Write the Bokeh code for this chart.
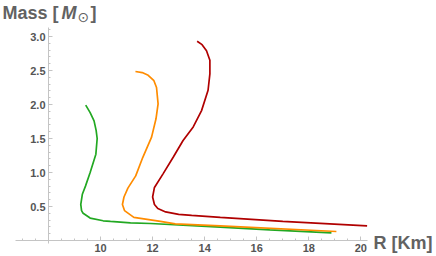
from bokeh.plotting import figure
from bokeh.models import LinearAxis, FixedTicker, Range1d, Label, NumeralTickFormatter
from bokeh.embed import file_html
from bokeh.resources import INLINE

# ---- data ----
green_R = [9.43, 9.6, 9.75, 9.83, 9.87, 9.82, 9.6, 9.42, 9.3, 9.24, 9.27, 9.33, 9.6, 10.1, 10.38, 11.15, 11.92, 14.6, 16.5, 18.87]
green_M = [1.99, 1.88, 1.76, 1.62, 1.50, 1.27, 1.00, 0.80, 0.68, 0.53, 0.44, 0.40, 0.33, 0.29, 0.28, 0.26, 0.25, 0.196, 0.157, 0.113]

orange_R = [11.34, 11.6, 11.83, 12.05, 12.15, 12.21, 12.13, 11.96, 11.62, 11.35, 11.05, 10.9, 10.84, 10.92, 11.28, 12.3, 12.87, 14.6, 19.06]
orange_M = [2.485, 2.47, 2.43, 2.35, 2.25, 2.01, 1.79, 1.52, 1.22, 0.95, 0.77, 0.64, 0.53, 0.44, 0.34, 0.28, 0.245, 0.216, 0.132]

red_R = [13.71, 13.9, 14.07, 14.2, 14.2, 14.13, 13.88, 13.56, 13.17, 12.79, 12.4, 12.07, 12.0, 12.07, 12.2, 12.5, 13.0, 13.5, 14.6, 17.0, 20.24]
red_M = [2.93, 2.88, 2.79, 2.65, 2.45, 2.21, 1.91, 1.67, 1.47, 1.225, 0.98, 0.78, 0.64, 0.53, 0.47, 0.42, 0.385, 0.37, 0.34, 0.28, 0.216]

x_ticks = [10, 12, 14, 16, 18, 20]
x_minor = [7 + 0.5 * i for i in range(27)]
y_ticks = [0.5, 1.0, 1.5, 2.0, 2.5, 3.0]
y_minor = [round(0.1 * i, 1) for i in range(1, 32)]

x_label = "R [Km]"
y_label_parts = ["Mass [", "M", "\u2299", "]"]

# ---- layout (frame covers the whole canvas) ----
W, H = 436, 256
PX_X = 26.03   # pixels per km
PX_Y = 68.0    # pixels per solar mass
X0, Y0 = 48, 240  # canvas position of (8, 0)

def cx(px):
    return 8 + (px - X0) / PX_X

def cy(py):
    return (Y0 - py) / PX_Y

p = figure(width=W, height=H, output_backend="svg", toolbar_location=None,
           x_axis_location=None, y_axis_location=None,
           x_range=Range1d(cx(0), cx(W)), y_range=Range1d(cy(H), cy(0)),
           min_border=0, min_border_left=0, min_border_right=0,
           min_border_top=0, min_border_bottom=0,
           background_fill_color="white", border_fill_color="white")
p.outline_line_color = None
p.grid.visible = False

axis_col = "#c4c4c4"
lab_col = "#555555"

xa = LinearAxis(fixed_location=0, bounds=(cx(15), cx(367)),
                ticker=FixedTicker(ticks=x_ticks, minor_ticks=x_minor))
ya = LinearAxis(fixed_location=8, bounds=(cy(243), cy(27)),
                ticker=FixedTicker(ticks=y_ticks, minor_ticks=y_minor),
                formatter=NumeralTickFormatter(format="0.0"))
for ax in (xa, ya):
    ax.axis_line_color = axis_col
    ax.major_tick_line_color = axis_col
    ax.minor_tick_line_color = axis_col
    ax.major_tick_in = 4
    ax.major_tick_out = 0
    ax.minor_tick_in = 2
    ax.minor_tick_out = 0
    ax.major_label_text_font = "Liberation Sans"
    ax.major_label_text_font_style = "bold"
    ax.major_label_text_font_size = "11px"
    ax.major_label_text_color = lab_col
    ax.major_label_standoff = 3
p.add_layout(xa, "below")
p.add_layout(ya, "left")

p.line(green_R, green_M, line_color="#22a822", line_width=1.7)
p.line(orange_R, orange_M, line_color="#ff8c00", line_width=1.7)
p.line(red_R, red_M, line_color="#b00000", line_width=1.7)

title_col = "#626262"
mid_y = cy(12.8)
def lab(px, text, size, style, dy=0, font="Liberation Sans", y=None):
    yy = mid_y if y is None else y
    p.add_layout(Label(x=cx(px), y=yy - dy / PX_Y, text=text, text_font=font,
                       text_font_size=size, text_font_style=style, text_color=title_col,
                       text_baseline="middle", text_align="left"))

lab(2, y_label_parts[0], "18px", "bold")
lab(61, y_label_parts[1], "18px", "bold italic")
lab(77, y_label_parts[2], "14px", "normal", dy=3.5, font="DejaVu Sans")
lab(90, y_label_parts[3], "18px", "bold")

lab(373, x_label, "18px", "bold", y=cy(242.5))

open("out.html", "w").write(file_html(p, INLINE))
